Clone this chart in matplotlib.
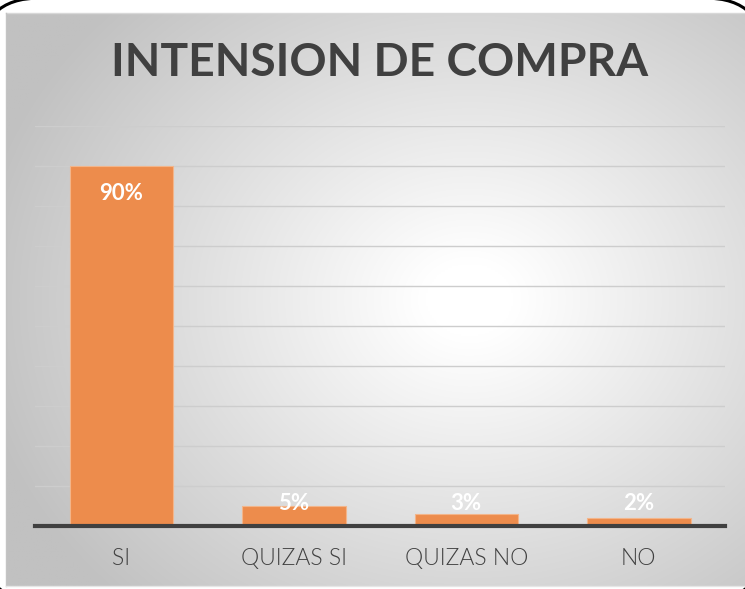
import numpy as np
import matplotlib
matplotlib.use("Agg")
import matplotlib.pyplot as plt
from matplotlib.patches import FancyBboxPatch

# ---- data ----
categories = ["SI", "QUIZAS SI", "QUIZAS NO", "NO"]
values = [90, 5, 3, 2]
value_labels = ["90%", "5%", "3%", "2%"]
title = "INTENSION DE COMPRA"

W, H = 745, 589
fig = plt.figure(figsize=(W / 100, H / 100), dpi=100)
fig.patch.set_facecolor("white")

# background axes in pixel coordinates
bg = fig.add_axes([0, 0, 1, 1], zorder=0)
bg.set_xlim(0, W)
bg.set_ylim(H, 0)
bg.axis("off")

# rounded black outline behind the chart
border = FancyBboxPatch((-20, -2), W + 40, 602, boxstyle="round,pad=0,rounding_size=60",
                        facecolor="white", edgecolor="black", linewidth=2.2, zorder=1)
bg.add_patch(border)

# radial gradient panel
px0, px1, py0, py1 = 6, W, 13, 586
xs = np.linspace(px0, px1, 400)
ys = np.linspace(py0, py1, 320)
X, Y = np.meshgrid(xs, ys)
cx, cy = 470, 300
d = np.sqrt(((X - cx) / 740) ** 2 + ((Y - cy) / 620) ** 2)
g = 255 - 62 * np.clip((d - 0.06) / 0.62, 0, 1)
img = np.dstack([g, g, g]) / 255.0
bg.imshow(img, extent=[px0, px1, py1, py0], aspect="auto", zorder=2, interpolation="bilinear")
bg.plot([px0, px1], [py0, py0], color="#d8d8d8", lw=1, zorder=3)
bg.plot([px0, px0], [py0, py1], color="#c4c4c4", lw=1, zorder=3)
bg.plot([px0, px1], [py1, py1], color="#e6e6e6", lw=1, zorder=3)

# main axes
ax = fig.add_axes([35 / W, (H - 526) / H, 690 / W, 400 / H], zorder=2)
ax.set_facecolor("none")
x = np.arange(len(categories))
ax.bar(x, values, width=0.6, color="#ED8C4C", edgecolor="#F3B58A", linewidth=0.8, zorder=3)
ax.set_xlim(-0.5, len(categories) - 0.5)
ax.set_ylim(0, 100)
for v in range(10, 101, 10):
    ax.axhline(v, color="#cdcdcd", lw=1.0, zorder=1)
ax.axhline(0, color="#404040", lw=3.0, zorder=4, clip_on=False)
for s in ax.spines.values():
    s.set_visible(False)
ax.set_yticks([])
ax.set_xticks(x)
ax.set_xticklabels(categories, family=["Lato", "DejaVu Sans"], fontsize=16.5,
                   color="#404040", fontweight=300)
ax.tick_params(axis="x", length=0, pad=16)

label_y = np.maximum(np.array(values) - 6.75, 5.75)
for xi, ly, lab in zip(x, label_y, value_labels):
    ax.text(xi, ly, lab, ha="center", va="center", color="white", fontsize=16,
            fontweight="bold", family=["Lato", "DejaVu Sans"], zorder=5)

t = fig.text(380 / W, 1 - 63 / H, title, ha="center", va="center", fontsize=36,
             fontweight="bold", color="#404040", family=["Lato", "DejaVu Sans"])
# fit title width to about 536 px
r = fig.canvas.get_renderer()
w = t.get_window_extent(r).width
t.set_fontsize(36 * 536 / w)

fig.savefig("out.png", dpi=100)
